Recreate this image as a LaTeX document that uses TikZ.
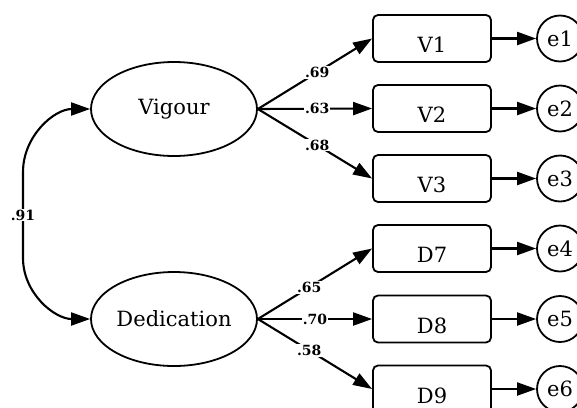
\documentclass[tikz,border=0pt]{standalone}
\usepackage{fontspec}
\setmainfont{DejaVu Serif}
\usetikzlibrary{arrows.meta,shapes.geometric}
\begin{document}
\begin{tikzpicture}[x=1pt,y=-1pt,
  every node/.style={font=\fontsize{21}{23}\selectfont},
  latent/.style={draw,ellipse,line width=1.8pt,minimum width=166pt,minimum height=94pt,inner sep=0pt},
  item/.style={draw,rounded corners=5pt,line width=1.8pt,minimum width=118pt,minimum height=47pt,inner sep=0pt,text height=28pt,text depth=0pt},
  err/.style={draw,circle,line width=1.8pt,minimum size=46pt,inner sep=0pt},
  tip/.style={Triangle[length=19pt,width=13pt]},
  loading/.style={line width=2.1pt,-{Triangle[length=19pt,width=13pt]}},
  coef/.style={fill=white,inner sep=1pt,font=\fontsize{14}{15}\selectfont\bfseries}]
\clip (0,0) rectangle (577,407);
\fill[white] (0,0) rectangle (577,407);

% latent factors
\node[latent] (vig) at (174,109) {Vigour};
\node[latent] (ded) at (174,319) {Dedication};

% indicators
\node[item] (v1) at (432,38.5) {V1};
\node[item] (v2) at (432,108.5) {V2};
\node[item] (v3) at (432,178.5) {V3};
\node[item] (d7) at (432,248.5) {D7};
\node[item] (d8) at (432,319) {D8};
\node[item] (d9) at (432,389) {D9};

% error terms
\node[err] (e1) at (560,38.5) {e1};
\node[err] (e2) at (560,108.5) {e2};
\node[err] (e3) at (560,178.5) {e3};
\node[err] (e4) at (560,248.5) {e4};
\node[err] (e5) at (560,319) {e5};
\node[err] (e6) at (560,389) {e6};

% factor covariance
\coordinate (ctop) at (23,172);
\coordinate (cbot) at (23,258);
\draw[line width=2.1pt,{Triangle[length=19pt,width=13pt]}-{Triangle[length=19pt,width=13pt]}]
  (vig.west) to[out=180,in=90] (ctop) -- node[coef] {.91} (cbot) to[out=-90,in=180] (ded.west);

% loadings
\draw[loading] (vig.east) -- node[coef,pos=0.52] {.69} (v1.west);
\draw[loading] (vig.east) -- node[coef,pos=0.52] {.63} (v2.west);
\draw[loading] (vig.east) -- node[coef,pos=0.52] {.68} (v3.west);
\draw[loading] (ded.east) -- node[coef,pos=0.45] {.65} (d7.west);
\draw[loading] (ded.east) -- node[coef,pos=0.5] {.70} (d8.west);
\draw[loading] (ded.east) -- node[coef,pos=0.45] {.58} (d9.west);

% residuals
\foreach \i/\e in {v1/e1,v2/e2,v3/e3,d7/e4,d8/e5,d9/e6}
  \draw[loading] (\i.east) -- (\e.west);
\end{tikzpicture}
\end{document}
